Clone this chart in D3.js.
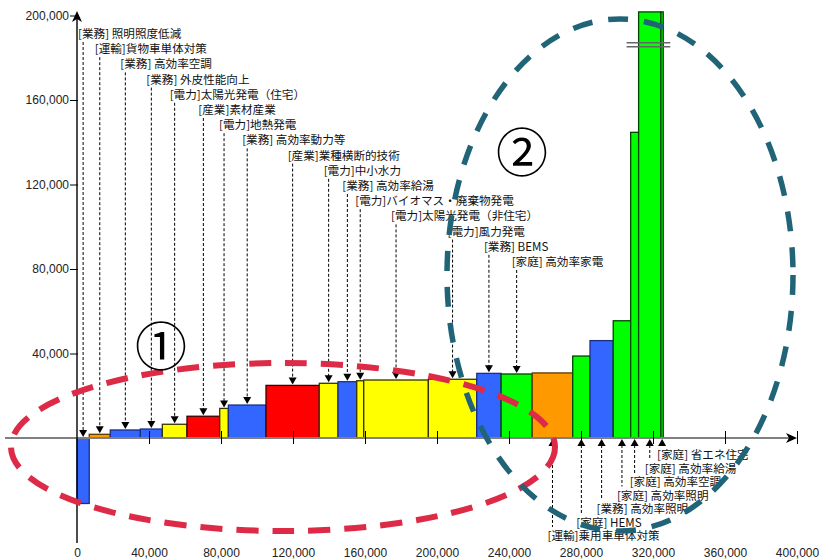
<!DOCTYPE html>
<html><head><meta charset="utf-8">
<script src="https://cdn.jsdelivr.net/npm/d3@7"></script>
<style>html,body{margin:0;padding:0;background:#fff;}svg{display:block;}</style>
</head><body>
<svg id="chart" width="823" height="560"></svg>
<script>
// ---- data ----
const sectors = ["業務","運輸","業務","業務","電力","産業","電力","業務","産業","電力","業務","電力","電力","電力","業務","家庭","運輸","家庭","業務","家庭","家庭","家庭","家庭"];
const measures = ["照明照度低減","貨物車単体対策","高効率空調","外皮性能向上","太陽光発電（住宅）","素材産業","地熱発電","高効率動力等","業種横断的技術","中小水力","高効率給湯","バイオマス・廃棄物発電","太陽光発電（非住宅）","風力発電","BEMS","高効率家電","乗用車単体対策","HEMS","高効率照明","高効率照明","高効率空調","高効率給湯","省エネ住宅"];
const reductions = [6800,11700,16700,12200,13700,18200,4800,20900,29600,10400,10400,3900,35900,26900,13500,17300,22500,9600,12900,9700,4400,12400,1300];
const costs = [-31000,1750,3800,4250,6500,10300,14000,15600,24900,25900,26650,27100,27450,27800,30600,30300,30800,38800,46100,55500,144700,201700,201700];
const truncated = [false,false,false,false,false,false,false,false,false,false,false,false,false,false,false,false,false,false,false,false,false,true,true];
const labelBelow = [false,false,false,false,false,false,false,false,false,false,false,false,false,false,false,false,true,true,true,true,true,true,true];
const yTicks = [40000,80000,120000,160000,200000];
const xTicks = [0,40000,80000,120000,160000,200000,240000,280000,320000,360000,400000];
const sectorColors = {"業務":"#3366ff","運輸":"#ff9900","電力":"#ffff00","産業":"#ff0000","家庭":"#00ff00"};
const sectorStroke = {"業務":"#1c2f80","運輸":"#5a3a00","電力":"#333300","産業":"#3a0000","家庭":"#004400"};
const groupLabels = ["①","②"];

// ---- build ----
const svg = d3.select("#chart");
const x = d3.scaleLinear().domain([0,400000]).range([77,797]);
const y = d3.scaleLinear().domain([0,200000]).range([438,15.5]);
const jp = "'Noto Sans CJK JP','Noto Sans',sans-serif";
const num = "'Liberation Sans',Arial,sans-serif";

let cum = 0;
const bars = reductions.map((w,i)=>{
  const d = {i, x0:cum, x1:cum+w, cost:costs[i], sector:sectors[i], name:measures[i],
    label:"[" + sectors[i] + "]" + ((sectors[i]==="業務"||sectors[i]==="家庭")?" ":"") + measures[i]};
  cum += w; return d;
});

// bars
svg.append("g").selectAll("rect").data(bars).join("rect")
  .attr("x", d=>x(d.x0))
  .attr("width", d=>x(d.x1)-x(d.x0))
  .attr("y", d=>Math.min(y(d.cost), y(0)))
  .attr("height", d=>Math.abs(y(d.cost)-y(0)))
  .attr("fill", d=>sectorColors[d.sector])
  .attr("stroke", d=>sectorStroke[d.sector])
  .attr("stroke-width",1.3);

// break marks on truncated bars
const tb = bars.filter(d=>truncated[d.i]);
const bx0 = x(tb[0].x0)-12, bx1 = x(tb[tb.length-1].x1)+7;
[42.7,46.7].forEach(yy=>{
  svg.append("line").attr("x1",bx0).attr("x2",bx1).attr("y1",yy).attr("y2",yy)
    .attr("stroke","#666").attr("stroke-width",1.6);
});

// x axis line (gray) + arrow
svg.append("line").attr("x1",5).attr("x2",790).attr("y1",y(0)).attr("y2",y(0))
  .attr("stroke","#808080").attr("stroke-width",2);
svg.append("path").attr("d",`M${x(400000)},${y(0)} l-11,-5 l3,5 l-3,5 z`).attr("fill","#000");

// x axis ticks and labels
const xAxis = d3.axisBottom(x).tickValues(xTicks).tickFormat(d3.format(",")).tickSize(6).tickPadding(104);
const gx = svg.append("g").attr("transform",`translate(0,${y(0)})`).call(xAxis);
gx.select(".domain").remove();
gx.selectAll(".tick line").attr("y1",-7).attr("y2",6).attr("stroke","#000");
gx.selectAll(".tick").filter(d=>d===0).select("line").remove();
gx.selectAll("text").attr("font-family",num).attr("font-size",12).attr("fill","#222");

// y axis
svg.append("line").attr("x1",x(0)).attr("x2",x(0)).attr("y1",543).attr("y2",16)
  .attr("stroke","#000").attr("stroke-width",1.4);
svg.append("path").attr("d",`M${x(0)},11 l-5,11 l5,-3 l5,3 z`).attr("fill","#000");
const yAxis = d3.axisLeft(y).tickValues(yTicks).tickFormat(d3.format(",")).tickSize(7).tickPadding(1);
const gy = svg.append("g").attr("transform",`translate(${x(0)},0)`).call(yAxis);
gy.select(".domain").remove();
gy.selectAll(".tick line").attr("x2",-7).attr("x1",1).attr("stroke","#000");
gy.selectAll("text").attr("font-family",num).attr("font-size",12).attr("fill","#222");

// leaders and labels
const lg = svg.append("g");
let ti = 0, bi = 0;
bars.forEach(d=>{
  const cx = (x(d.x0)+x(d.x1))/2;
  if(!labelBelow[d.i]){
    const ly = 33 + ti*15.2; ti++;
    const tipY = Math.min(y(Math.max(d.cost,0)), y(0)) - 1;
    lg.append("line").attr("x1",cx).attr("x2",cx).attr("y1",ly+9).attr("y2",tipY-6)
      .attr("stroke","#000").attr("stroke-width",1).attr("stroke-dasharray","3,2");
    lg.append("path").attr("d",`M${cx},${tipY} l-4,-7 l8,0 z`).attr("fill","#000");
    lg.append("text").attr("x",cx-5).attr("y",ly).attr("dominant-baseline","central")
      .attr("font-family",jp).attr("font-size",11.6).attr("fill","#111").text(d.label);
  } else {
    const ly = 535 - bi*13.5; bi++;
    const tipY = y(0)+1;
    lg.append("line").attr("x1",cx).attr("x2",cx).attr("y1",tipY+6).attr("y2",ly-8)
      .attr("stroke","#000").attr("stroke-width",1).attr("stroke-dasharray","3,2");
    lg.append("path").attr("d",`M${cx},${tipY} l-4,7 l8,0 z`).attr("fill","#000");
    lg.append("text").attr("x",cx-5).attr("y",ly).attr("dominant-baseline","central")
      .attr("font-family",jp).attr("font-size",11.6).attr("fill","#111").text(d.label);
  }
});

// group ellipses
svg.append("ellipse").attr("cx",283).attr("cy",447).attr("rx",272).attr("ry",84)
  .attr("fill","none").attr("stroke","#dc2a47").attr("stroke-width",6).attr("stroke-dasharray","22,14");
svg.append("ellipse").attr("cx",620).attr("cy",275).attr("rx",173).attr("ry",256)
  .attr("fill","none").attr("stroke","#216478").attr("stroke-width",5.5).attr("stroke-dasharray","20,16");

// circled group numbers
svg.append("text").attr("x",161).attr("y",343).attr("text-anchor","middle").attr("dominant-baseline","central")
  .attr("font-family",jp).attr("font-size",52).attr("fill","#000").text(groupLabels[0]);
svg.append("text").attr("x",522).attr("y",149).attr("text-anchor","middle").attr("dominant-baseline","central")
  .attr("font-family",jp).attr("font-size",52).attr("fill","#000").text(groupLabels[1]);
</script>
</body></html>
